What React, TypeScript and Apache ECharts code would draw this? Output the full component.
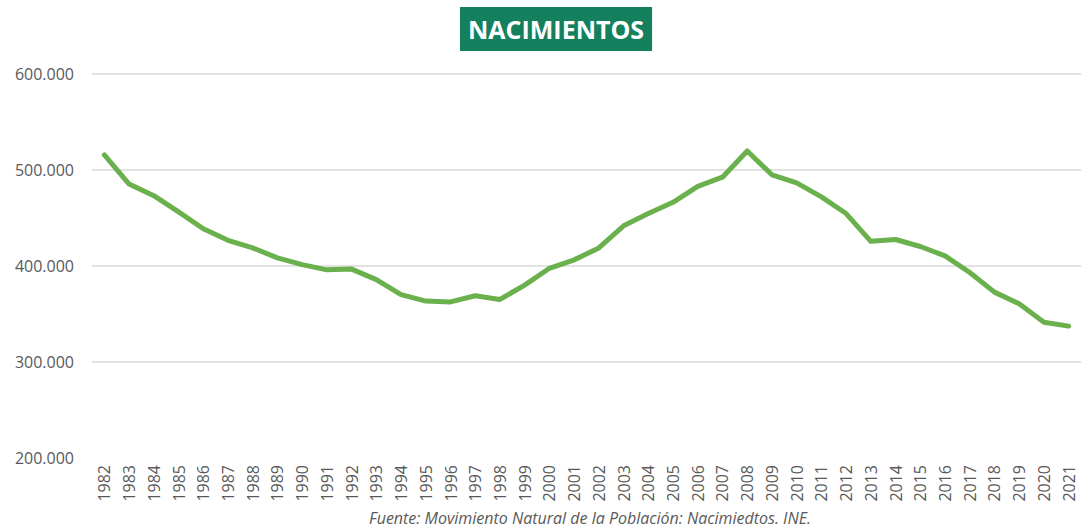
import React, { useEffect, useRef } from "react";
import * as echarts from "echarts";

const years: string[] = [
  "1982", "1983", "1984", "1985", "1986", "1987", "1988", "1989", "1990", "1991",
  "1992", "1993", "1994", "1995", "1996", "1997", "1998", "1999", "2000", "2001",
  "2002", "2003", "2004", "2005", "2006", "2007", "2008", "2009", "2010", "2011",
  "2012", "2013", "2014", "2015", "2016", "2017", "2018", "2019", "2020", "2021",
];

const births: number[] = [
  515706, 485352, 473281, 456298, 438750, 426782, 418919, 408434, 401425, 395989,
  396747, 385786, 370148, 363469, 362626, 369035, 365193, 380130, 397632, 406380,
  418846, 441881, 454591, 466371, 482957, 492527, 519779, 494997, 486575, 471999,
  454648, 425715, 427595, 420290, 410583, 393181, 372777, 360617, 341315, 337380,
];

const yTicks = { min: 200000, max: 600000, interval: 100000 };

const titleText = "NACIMIENTOS";
const sourceText = "Fuente: Movimiento Natural de la Población: Nacimiedtos. INE.";

const fmt = (v: number) => String(v).replace(/\B(?=(\d{3})+(?!\d))/g, ".");

export default function App() {
  const ref = useRef<HTMLDivElement>(null);
  useEffect(() => {
    if (!ref.current) return;
    const chart = echarts.init(ref.current, null, { renderer: "svg" });
    chart.setOption({
      animation: false,
      backgroundColor: "#ffffff",
      title: {
        text: titleText,
        left: 460,
        top: 7,
        backgroundColor: "#14805e",
        padding: [7, 8, 7, 8],
        textStyle: {
          color: "#ffffff",
          fontWeight: "bold",
          fontSize: 25,
          fontFamily: "Open Sans",
          lineHeight: 30,
        },
      },
      grid: { left: 92, top: 74, width: 1000, height: 384 },
      xAxis: {
        type: "category",
        data: years,
        boundaryGap: true,
        axisLine: { show: false },
        axisTick: { show: false },
        axisLabel: {
          rotate: 90,
          interval: 0,
          margin: 7,
          color: "#595959",
          fontSize: 16,
          fontFamily: "Open Sans",
        },
      },
      yAxis: {
        type: "value",
        min: yTicks.min,
        max: yTicks.max,
        interval: yTicks.interval,
        axisLine: { show: false },
        axisTick: { show: false },
        axisLabel: {
          margin: 18,
          color: "#595959",
          fontSize: 16,
          fontFamily: "Open Sans",
          formatter: (v: number) => fmt(v),
        },
        splitLine: {
          lineStyle: {
            color: ["rgba(0,0,0,0)", "#d9d9d9", "#d9d9d9", "#d9d9d9", "#d9d9d9"],
            width: 1.5,
          },
        },
      },
      series: [
        {
          type: "line",
          data: births,
          symbol: "none",
          lineStyle: { color: "#6ab04c", width: 5, cap: "round", join: "round" },
        },
      ],
      graphic: [
        {
          type: "text",
          x: 590,
          y: 510,
          style: {
            text: sourceText,
            align: "center",
            verticalAlign: "top",
            fill: "#595959",
            fontStyle: "italic",
            fontSize: 16,
            fontFamily: "Open Sans",
          },
        },
      ],
    });
    return () => chart.dispose();
  }, []);
  return (
    <div
      ref={ref}
      style={{ position: "fixed", left: 0, top: 0, width: 1081, height: 531, overflow: "hidden" }}
    />
  );
}
